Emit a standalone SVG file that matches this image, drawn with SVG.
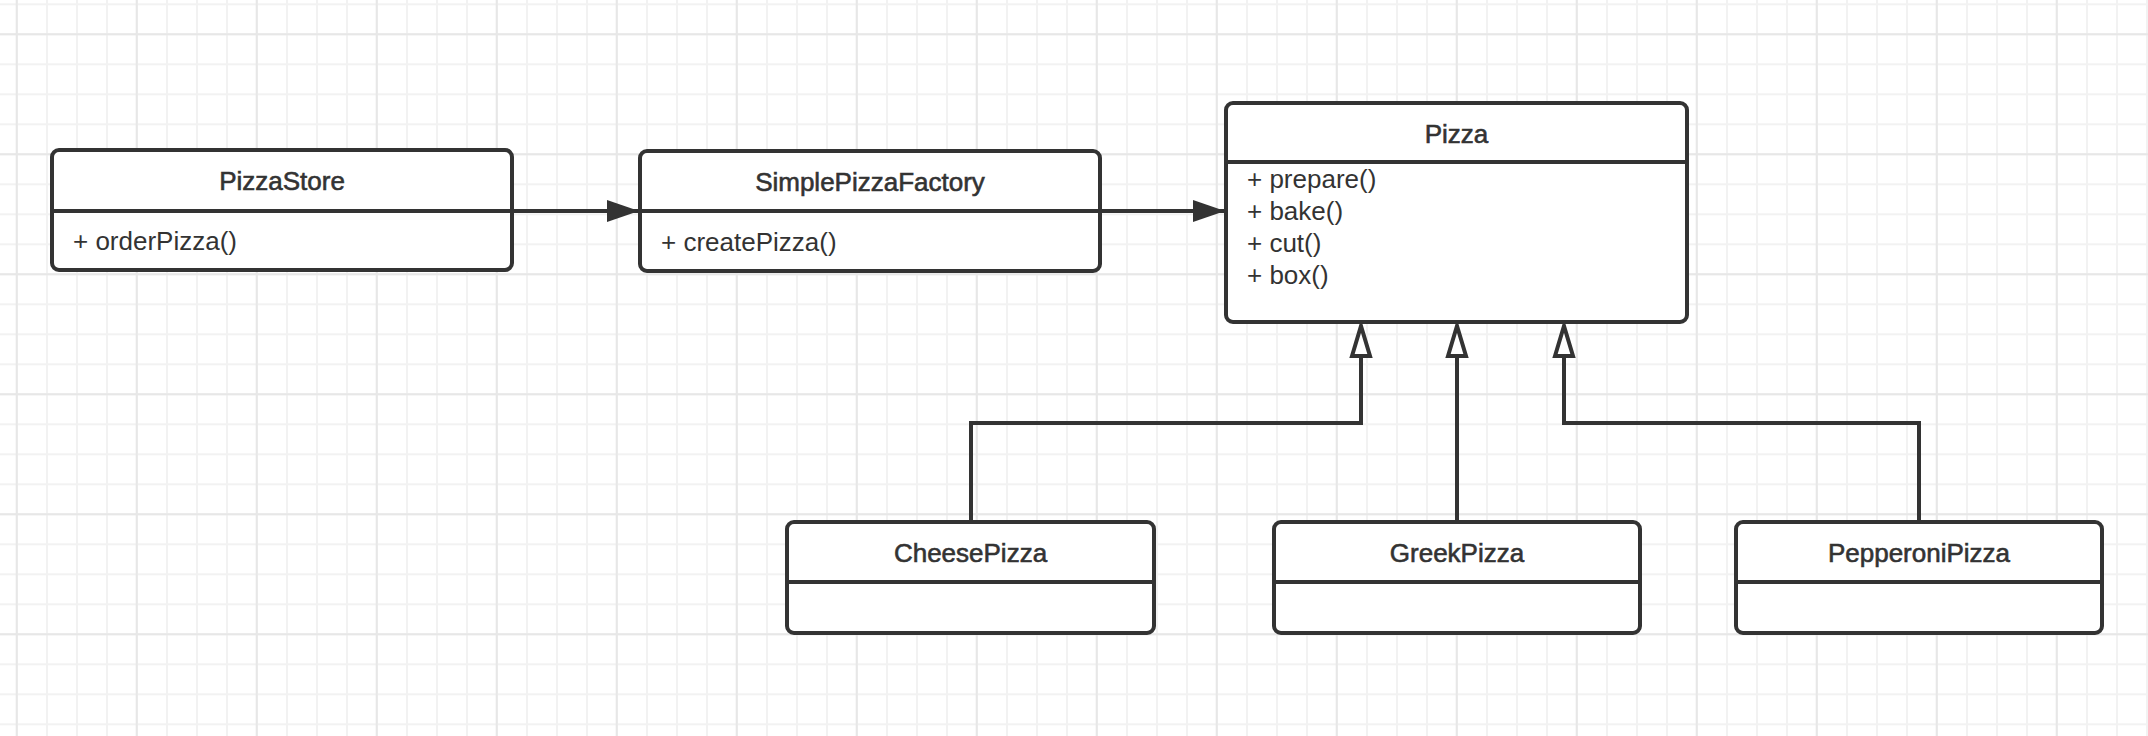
<svg xmlns="http://www.w3.org/2000/svg" width="2148" height="736" viewBox="0 0 2148 736">
<defs>
<pattern id="gridMinor" x="0" y="0" width="30" height="30" patternUnits="userSpaceOnUse">
<line x1="17" y1="0" x2="17" y2="30" stroke="#f2f2f2" stroke-width="2"/>
<line x1="0" y1="4.3" x2="30" y2="4.3" stroke="#f2f2f2" stroke-width="2"/>
</pattern>
<pattern id="gridMajor" x="0" y="0" width="120" height="120" patternUnits="userSpaceOnUse">
<line x1="16.7" y1="0" x2="16.7" y2="120" stroke="#e7e7e7" stroke-width="2"/>
<line x1="0" y1="34.3" x2="120" y2="34.3" stroke="#e7e7e7" stroke-width="2"/>
</pattern>
<marker id="arrowFilled" viewBox="0 0 32 22" refX="31" refY="11" markerWidth="32" markerHeight="22" markerUnits="userSpaceOnUse" orient="auto">
<polygon points="0,0 32,11 0,22" fill="#333"/>
</marker>
<marker id="arrowHollow" viewBox="-3 -3 36 24" refX="30" refY="9" markerWidth="36" markerHeight="24" markerUnits="userSpaceOnUse" orient="auto">
<polygon points="0,0 30,9 0,18" fill="#fff" stroke="#333" stroke-width="4" stroke-linejoin="miter"/>
</marker>
</defs>
<style>
.box{fill:#fff;stroke:#333;stroke-width:4}
.div{stroke:#333;stroke-width:4}
.title{font-family:"Liberation Sans",Arial,sans-serif;font-size:26px;fill:#333;stroke:#333;stroke-width:0.6;text-anchor:middle}
.meth{font-family:"Liberation Sans",Arial,sans-serif;font-size:26px;fill:#333}
.conn{fill:none;stroke:#333;stroke-width:4}
</style>
<rect width="2148" height="736" fill="#fff"/>
<rect width="2148" height="736" fill="url(#gridMinor)"/>
<rect width="2148" height="736" fill="url(#gridMajor)"/>

<g id="connectors">
<line class="conn" x1="512" y1="211" x2="638" y2="211" marker-end="url(#arrowFilled)"/>
<line class="conn" x1="1100" y1="211" x2="1224" y2="211" marker-end="url(#arrowFilled)"/>
<path class="conn" d="M971,520 V423 H1361 V326" marker-end="url(#arrowHollow)"/>
<path class="conn" d="M1457,520 V326" marker-end="url(#arrowHollow)"/>
<path class="conn" d="M1919,520 V423 H1564 V326" marker-end="url(#arrowHollow)"/>
</g>

<g id="PizzaStore">
<rect class="box" x="52" y="150" width="460" height="120" rx="7"/>
<line class="div" x1="52" y1="211" x2="512" y2="211"/>
<text class="title" x="282" y="190">PizzaStore</text>
<text class="meth" x="73" y="250">+ orderPizza()</text>
</g>

<g id="SimplePizzaFactory">
<rect class="box" x="640" y="151" width="460" height="120" rx="7"/>
<line class="div" x1="640" y1="211" x2="1100" y2="211"/>
<text class="title" x="870" y="191">SimplePizzaFactory</text>
<text class="meth" x="661" y="251">+ createPizza()</text>
</g>

<g id="Pizza">
<rect class="box" x="1226" y="103" width="461" height="219" rx="7"/>
<line class="div" x1="1226" y1="162" x2="1687" y2="162"/>
<text class="title" x="1456.5" y="143">Pizza</text>
<text class="meth" x="1247" y="188">+ prepare()</text>
<text class="meth" x="1247" y="220">+ bake()</text>
<text class="meth" x="1247" y="252">+ cut()</text>
<text class="meth" x="1247" y="284">+ box()</text>
</g>

<g id="CheesePizza">
<rect class="box" x="787" y="522" width="367" height="111" rx="7"/>
<line class="div" x1="787" y1="582" x2="1154" y2="582"/>
<text class="title" x="970.5" y="562">CheesePizza</text>
</g>

<g id="GreekPizza">
<rect class="box" x="1274" y="522" width="366" height="111" rx="7"/>
<line class="div" x1="1274" y1="582" x2="1640" y2="582"/>
<text class="title" x="1457" y="562">GreekPizza</text>
</g>

<g id="PepperoniPizza">
<rect class="box" x="1736" y="522" width="366" height="111" rx="7"/>
<line class="div" x1="1736" y1="582" x2="2102" y2="582"/>
<text class="title" x="1919" y="562">PepperoniPizza</text>
</g>
</svg>
